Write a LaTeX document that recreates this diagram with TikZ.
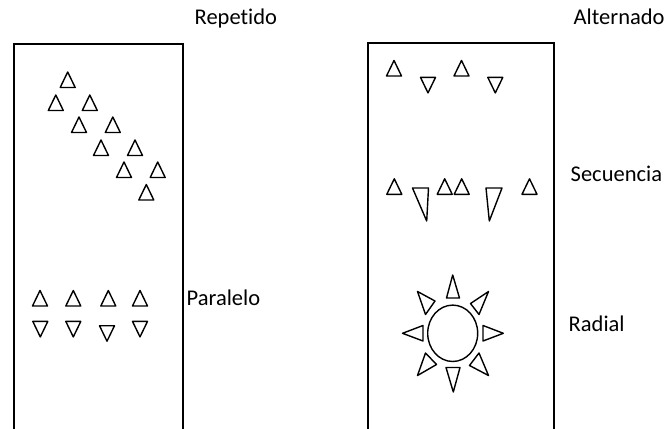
\documentclass[tikz,border=0pt]{standalone}
\usepackage{fontspec}
\setmainfont{Carlito}[Ligatures=NoCommon]
\begin{document}
\begin{tikzpicture}[x=1pt,y=-1pt,
  box/.style={line width=1.8pt},
  tri/.style={line width=1.4pt,line join=round},
  lbl/.style={anchor=base west,inner sep=0pt,font=\fontsize{22.5}{24}\selectfont},
  up/.pic={\draw[tri] (-7.5,0)--(7.5,0)--(0,-15.5)--cycle;},
  down/.pic={\draw[tri] (-7.5,0)--(7.5,0)--(0,15.5)--cycle;}]
\useasboundingbox (0,0) rectangle (666,428);
% boxes
\draw[box] (14,430)--(14,44)--(183,44)--(183,430);
\draw[box] (368,430)--(368,43)--(554,43)--(554,430);
% labels
\node[lbl] (rep) at (194.5,25) {Repetido};
\node[lbl] (alt) at (573.5,25) {Alternado};
\node[lbl] (sec) at (570.5,181) {Secuencia};
\node[lbl] (par) at (186.5,305.5) {Paralelo};
\node[lbl] (rad) at (568.5,331) {Radial};
% repetido diagonal
\foreach \x/\y in {67.7/87.5,55.8/110.5,89.8/110.5,79/132.5,112.8/132.5,101/155.5,135/155.5,124/177.5,157.7/177.5,146.3/200}
  \pic at (\x,\y) {up};
% paralelo
\foreach \x in {40,73.3,108.3,140} \pic at (\x,306) {up};
\foreach \x/\y in {40.3/321.4,73.3/321.4,107/325.7,140/321.4} \pic at (\x,\y) {down};
% alternado top row
\pic at (394,76) {up};
\pic at (428,77.4) {down};
\pic at (461.5,76) {up};
\pic at (495.3,77.4) {down};
% secuencia
\pic at (394.3,194.3) {up};
\draw[tri] (412.5,188)--(428.5,188)--(426.7,221)--cycle;
\pic at (444.7,194.3) {up};
\pic at (461.7,194.3) {up};
\draw[tri] (486,188)--(502,188)--(489.3,221)--cycle;
\pic at (529.5,194.3) {up};
% radial
\draw[tri] (452.7,333.3) ellipse [x radius=25,y radius=28.2];
\draw[tri] (446.5,298)--(459.5,298)--(452.7,275)--cycle;
\draw[tri] (446,367.5)--(460,367.5)--(453.3,392)--cycle;
\draw[tri] (423,325.5)--(423,341)--(402.5,333.3)--cycle;
\draw[tri] (483,325.5)--(483,341)--(503.3,333.3)--cycle;
\draw[tri] (435,301)--(425.5,314.5)--(417.5,291.5)--cycle;
\draw[tri] (470.5,303.5)--(479,314.5)--(488.5,291.5)--cycle;
\draw[tri] (425.5,353)--(436.5,364.5)--(417.5,375.5)--cycle;
\draw[tri] (479,353)--(469.5,365.5)--(488.5,375.5)--cycle;
\end{tikzpicture}
\end{document}
